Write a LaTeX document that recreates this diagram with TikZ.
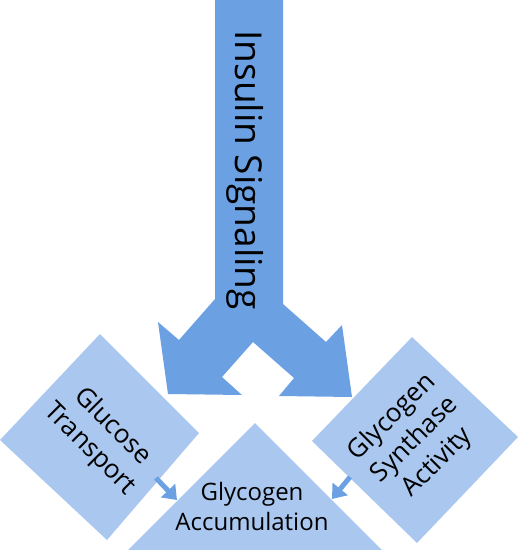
\documentclass[tikz,border=0pt]{standalone}
\usepackage{fontspec}
\setmainfont{Open Sans}
\usetikzlibrary{arrows.meta}
\definecolor{darkblue}{RGB}{107,160,227}
\definecolor{lightblue}{RGB}{169,199,239}
\tikzset{
  bigshape/.style={fill=darkblue, draw=none},
  lightshape/.style={fill=lightblue, draw=none},
  lbl/.style={text=black, inner sep=0pt, align=center},
  smallarrow/.style={draw=darkblue, line width=5pt, -{Triangle[length=13pt,width=19pt]}, shorten >=0pt}
}
\begin{document}
\begin{tikzpicture}[x=1pt,y=-1pt]
\useasboundingbox (0,0) rectangle (518,550);
\begin{scope}
\clip (0,0) rectangle (518,550);
% light shapes
\fill[lightshape] (100,334) -- (199,433) -- (107,540) -- (0,440) -- cycle;
\fill[lightshape] (412,337) -- (518,437) -- (417,543) -- (312,441) -- cycle;
\fill[lightshape] (255,423) -- (390,558) -- (120,558) -- cycle;
% big diverging arrow
\fill[bigshape] (215,-2) -- (215,299) -- (179,340) -- (158,322) -- (168,394)
  -- (242,395) -- (222,377) -- (253,342) -- (294,378) -- (279,396)
  -- (352,397) -- (342,325) -- (326,342) -- (283,304) -- (283,-2) -- cycle;
\end{scope}
% named anchors for small connectors
\coordinate (gtout) at (156,478);
\coordinate (accinL) at (177,500);
\coordinate (gsout) at (350,477);
\coordinate (accinR) at (332,499);
% labels
\node[lbl, rotate=-90, font=\fontsize{37}{44}\selectfont] (ins) at (245,170) {Insulin Signaling};
\node[lbl, rotate=-45, font=\fontsize{26}{32}\selectfont] (gt) at (101,438) {Glucose\\Transport};
\node[lbl, rotate=45, font=\fontsize{26}{32}\selectfont] (gs) at (415,440) {Glycogen\\Synthase\\Activity};
\node[lbl, font=\fontsize{24}{30}\selectfont] (acc) at (252,506) {Glycogen\\Accumulation};
% small connectors
\draw[smallarrow] (gtout) -- (accinL);
\draw[smallarrow] (gsout) -- (accinR);
\end{tikzpicture}
\end{document}
